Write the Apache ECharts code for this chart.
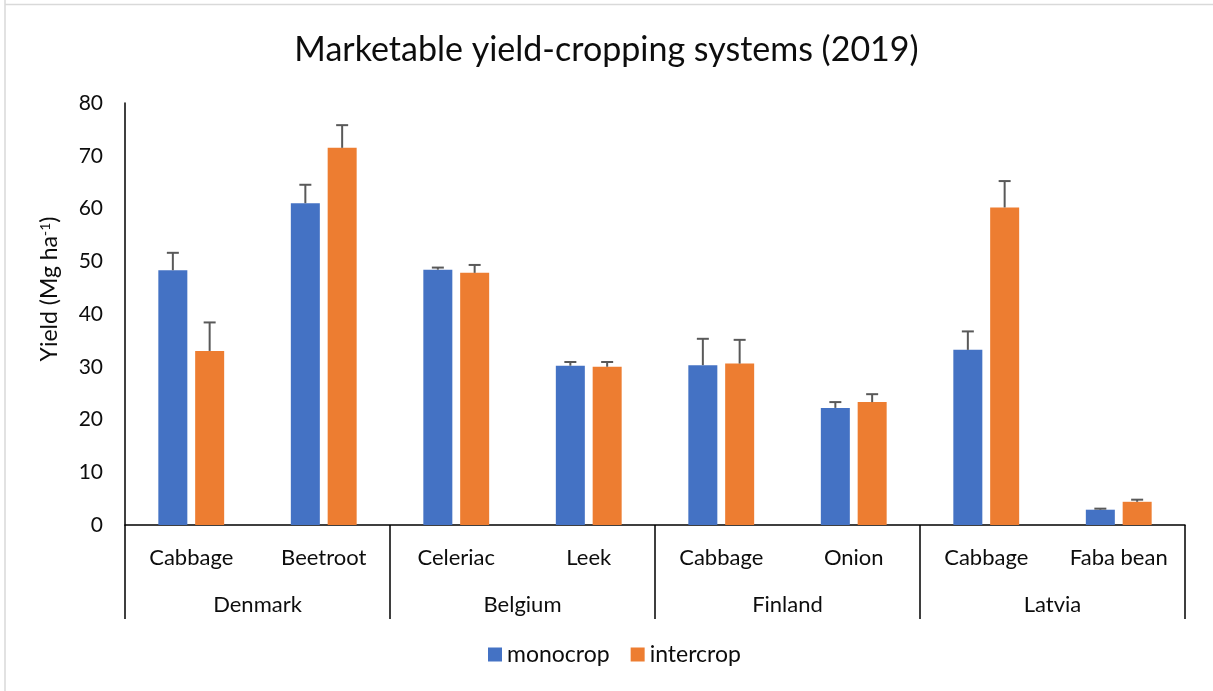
<!DOCTYPE html>
<html>
<head>
<meta charset="utf-8">
<script src="https://cdn.jsdelivr.net/npm/echarts@6/dist/echarts.min.js"></script>
<style>
  html, body { margin: 0; padding: 0; background: #fff; }
  #chart { width: 1213px; height: 691px; }
</style>
</head>
<body>
<div id="chart"></div>
<script>
// data
var crops = ['Cabbage', 'Beetroot', 'Celeriac', 'Leek', 'Cabbage', 'Onion', 'Cabbage', 'Faba bean'];
var countries = ['Denmark', 'Belgium', 'Finland', 'Latvia'];
var monocrop = [48.3, 61.0, 48.4, 30.2, 30.3, 22.2, 33.2, 2.9];
var intercrop = [33.0, 71.5, 47.8, 30.0, 30.6, 23.3, 60.2, 4.4];
var monoErr = [3.3, 3.5, 0.4, 0.7, 5.0, 1.1, 3.5, 0.2];
var interErr = [5.4, 4.3, 1.5, 0.9, 4.5, 1.5, 5.0, 0.4];
var yTicks = [0, 10, 20, 30, 40, 50, 60, 70, 80];

var font = 'Lato';
var txt = '#0d0d0d';

function errorBars(offset) {
  return function (params, api) {
    var idx = api.value(0);
    var val = api.value(1);
    var err = api.value(2);
    var base = api.coord([idx, val]);
    var top = api.coord([idx, val + err]);
    var x = base[0] + offset;
    var st = { stroke: '#595959', lineWidth: 2 };
    return {
      type: 'group',
      children: [
        { type: 'line', shape: { x1: x, y1: base[1], x2: x, y2: top[1] }, style: st },
        { type: 'line', shape: { x1: x - 6, y1: top[1], x2: x + 6, y2: top[1] }, style: st }
      ]
    };
  };
}

var chart = echarts.init(document.getElementById('chart'));
var option = {
  animation: false,
  textStyle: { fontFamily: font, color: txt },
  title: {
    text: 'Marketable yield-cropping systems (2019)',
    left: 'center',
    top: 28,
    textStyle: { fontFamily: font, fontSize: 34, fontWeight: 'normal', color: txt }
  },
  legend: {
    data: ['monocrop', 'intercrop'],
    top: 643,
    left: 488,
    padding: 0,
    itemWidth: 14,
    itemHeight: 14,
    itemGap: 21,
    icon: 'rect',
    textStyle: { fontFamily: font, fontSize: 23, color: txt, padding: [0, 0, 0, 0] }
  },
  grid: { left: 125, right: 28, top: 103, bottom: 166, containLabel: false },
  graphic: [
    { type: 'line', shape: { x1: 5, y1: 0, x2: 5, y2: 691 }, style: { stroke: '#d9d9d9', lineWidth: 1.5 } },
    { type: 'line', shape: { x1: 5, y1: 4.5, x2: 1213, y2: 4.5 }, style: { stroke: '#d9d9d9', lineWidth: 1.5 } }
  ],
  xAxis: [{
    type: 'category',
    data: crops,
    axisLine: { show: true, lineStyle: { color: '#000', width: 1.5 } },
    axisTick: { show: false },
    axisLabel: { interval: 0, margin: 22, fontFamily: font, fontSize: 22, color: txt }
  }, {
    type: 'category',
    data: countries,
    position: 'bottom',
    axisLine: { show: false },
    axisTick: { show: true, interval: 0, length: 94, lineStyle: { color: '#000', width: 1.5 } },
    axisLabel: { interval: 0, margin: 69, fontFamily: font, fontSize: 22, color: txt }
  }],
  yAxis: {
    type: 'value',
    min: 0,
    max: 80,
    interval: 10,
    name: '{a|Yield (Mg ha}{s|-1}{a|)}',
    nameLocation: 'middle',
    nameGap: 64,
    nameTextStyle: {
      padding: [0, 0, 0, 50],
      rich: {
        a: { fontFamily: font, fontSize: 23, color: txt },
        s: { fontFamily: font, fontSize: 14, color: txt, verticalAlign: 'top', padding: [0, 0, 7, 0] }
      }
    },
    axisLine: { show: true, lineStyle: { color: '#000', width: 1.5 } },
    axisTick: { show: false },
    splitLine: { show: false },
    axisLabel: {
      margin: 22,
      fontFamily: font,
      fontSize: 21,
      color: txt,
      formatter: function (v) { return yTicks.indexOf(v) >= 0 ? String(v) : ''; }
    }
  },
  series: [{
    name: 'monocrop',
    type: 'bar',
    barWidth: 29,
    barGap: '27%',
    data: monocrop,
    itemStyle: { color: '#4472c4' }
  }, {
    name: 'intercrop',
    type: 'bar',
    barWidth: 29,
    barGap: '27%',
    data: intercrop,
    itemStyle: { color: '#ed7d31' }
  }, {
    name: 'monoErr',
    type: 'custom',
    renderItem: errorBars(-18.4),
    data: monocrop.map(function (v, i) { return [i, v, monoErr[i]]; }),
    encode: { x: 0, y: 1 },
    z: 5
  }, {
    name: 'interErr',
    type: 'custom',
    renderItem: errorBars(18.4),
    data: intercrop.map(function (v, i) { return [i, v, interErr[i]]; }),
    encode: { x: 0, y: 1 },
    z: 5
  }]
};
chart.setOption(option);
</script>
</body>
</html>
